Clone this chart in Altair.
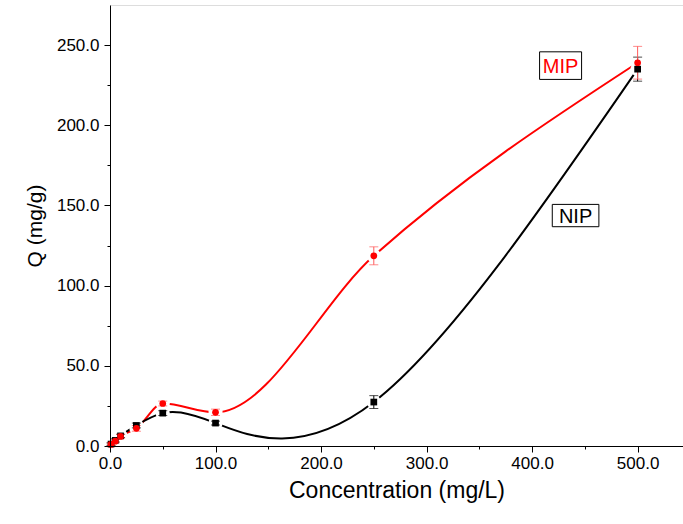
import altair as alt
import pandas as pd

# Adsorption data: concentration (mg/L) vs. adsorbed amount Q (mg/g)
conc = [1, 5, 10, 25, 50, 100, 250, 500]
mip_q = [1.0, 3.0, 6.0, 11.0, 26.5, 21.0, 118.6, 239.0]
mip_err = [0.8, 1.0, 1.2, 1.8, 1.5, 2.0, 5.6, 10.2]
nip_q = [1.2, 3.5, 6.3, 12.8, 20.5, 14.3, 27.4, 235.0]
nip_err = [0.8, 1.0, 1.0, 1.5, 1.5, 1.2, 4.0, 7.5]

FONT = "Liberation Sans"

x_scale = alt.Scale(domain=[0, 543], nice=False, zero=False)
y_scale = alt.Scale(domain=[0, 275], nice=False, zero=False)

x_axis = alt.Axis(
    title="Concentration (mg/L)",
    values=list(range(0, 550, 50)),
    labelExpr="datum.value % 100 === 0 ? format(datum.value, '.1f') : ''",
    tickSize={"condition": {"test": "datum.value % 100 !== 0", "value": 3}, "value": 6},
    grid=False, domainColor="black", tickColor="black", labelColor="black",
    labelFont=FONT, labelFontSize=17, labelPadding=3,
    titleFont=FONT, titleFontSize=23, titleFontWeight="normal", titleColor="black",
    titlePadding=8, zindex=1, labelFlush=False,
)
y_axis = alt.Axis(
    title="Q (mg/g)",
    values=list(range(0, 275, 25)),
    labelExpr="datum.value % 50 === 0 ? format(datum.value, '.1f') : ''",
    tickSize={"condition": {"test": "datum.value % 50 !== 0", "value": 3}, "value": 6},
    grid=False, domainColor="black", tickColor="black", labelColor="black",
    labelFont=FONT, labelFontSize=17, labelPadding=5,
    titleFont=FONT, titleFontSize=21, titleFontWeight="normal", titleColor="black",
    titlePadding=11, zindex=1, labelFlush=False,
)

X = alt.X("conc:Q", scale=x_scale, axis=x_axis)
Yq = alt.Y("q:Q", scale=y_scale, axis=y_axis)
Ylo = alt.Y("lo:Q", scale=y_scale, axis=y_axis)
Yhi = alt.Y("hi:Q", scale=y_scale, axis=y_axis)


def series_frame(qs, errs):
    return pd.DataFrame({
        "conc": conc,
        "q": qs,
        "lo": [q - e for q, e in zip(qs, errs)],
        "hi": [q + e for q, e in zip(qs, errs)],
    })


mip = alt.Chart(series_frame(mip_q, mip_err))
nip = alt.Chart(series_frame(nip_q, nip_err))

# smooth connecting curves
mip_curve = mip.mark_line(interpolate="monotone", strokeWidth=2, color="#ff0000").encode(x=X, y=Yq)
nip_curve = nip.mark_line(interpolate="natural", strokeWidth=2, color="#000000").encode(x=X, y=Yq)

# white gaps around the symbols
halo_kw = dict(shape="circle", filled=True, color="white", opacity=1, size=200)
halos = mip.mark_point(**halo_kw).encode(x=X, y=Yq) + nip.mark_point(**halo_kw).encode(x=X, y=Yq)


def error_bars(src, col):
    rule = src.mark_rule(strokeWidth=1, color=col).encode(x=X, y=Ylo, y2="hi:Q")
    lo = src.mark_tick(orient="horizontal", size=9, thickness=1, color=col).encode(x=X, y=Ylo)
    hi = src.mark_tick(orient="horizontal", size=9, thickness=1, color=col).encode(x=X, y=Yhi)
    return rule + lo + hi


mip_err_bars = error_bars(mip, "#ff5a5a")
nip_err_bars = error_bars(nip, "#000000")

mip_pts = mip.mark_point(shape="circle", filled=True, opacity=1, size=45, color="#ff0000").encode(x=X, y=Yq)
nip_pts = nip.mark_point(shape="square", filled=True, opacity=1, size=45, color="#000000").encode(x=X, y=Yq)

# series labels in boxes
lab_mip = pd.DataFrame({"conc": [427.0], "q": [237.2], "text": ["MIP"]})
lab_nip = pd.DataFrame({"conc": [441.2], "q": [143.7], "text": ["NIP"]})


def boxed_label(d, text_color, w, h):
    s = max(w, h)
    path = f"M-{w/s:.3f},-{h/s:.3f}L{w/s:.3f},-{h/s:.3f}L{w/s:.3f},{h/s:.3f}L-{w/s:.3f},{h/s:.3f}Z"
    box = alt.Chart(d).mark_point(shape=path, filled=False, stroke="black", strokeWidth=1,
                                  opacity=1, size=s * s).encode(x=X, y=Yq)
    txt = alt.Chart(d).mark_text(font=FONT, fontSize=20, color=text_color, baseline="middle",
                                 align="center", dy=1).encode(x=X, y=Yq, text="text:N")
    return box + txt


chart = alt.layer(
    mip_curve, nip_curve, halos,
    nip_err_bars, mip_err_bars, nip_pts, mip_pts,
    boxed_label(lab_mip, "#ff0000", 42, 27.6),
    boxed_label(lab_nip, "#000000", 46.6, 22.3),
).properties(
    width=573, height=441,
    autosize=alt.AutoSizeParams(type="none"),
    padding={"left": 110, "top": 5, "right": 0, "bottom": 78},
).configure_view(stroke=None).configure(background="white")

chart.save("out.html", embed_options={"renderer": "svg", "actions": False})
